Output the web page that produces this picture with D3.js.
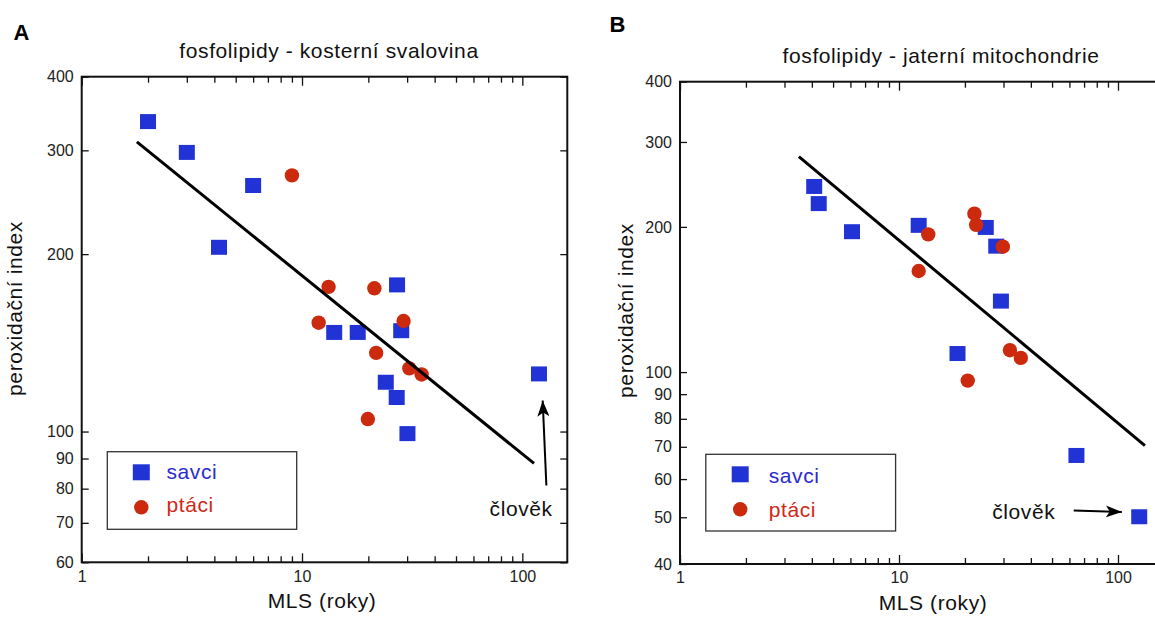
<!DOCTYPE html>
<html>
<head>
<meta charset="utf-8">
<script src="https://cdn.jsdelivr.net/npm/d3@7"></script>
<style>
    body { margin: 0; background: #fff; }
    text { font-family: "Liberation Sans", Arial, Helvetica, sans-serif; }
</style>
</head>
<body>
<div class="container__chart"></div>
<script>
//data
const panelLetters = ["A", "B"];
const panelTitles = ["fosfolipidy - kosterní svalovina", "fosfolipidy - jaterní mitochondrie"];
const legendLabels = ["savci", "ptáci"];
const xTitle = "MLS (roky)";
const yTitle = "peroxidační index";
const humanLabel = "člověk";

const xTickLabels = [1, 10, 100];
const xMinorTicks = [2, 3, 4, 5, 6, 7, 8, 9, 20, 30, 40, 50, 60, 70, 80, 90];
const yTicksA = [60, 70, 80, 90, 100, 200, 300, 400];
const yTicksB = [40, 50, 60, 70, 80, 90, 100, 200, 300, 400];

// A - skeletal muscle (last mammal = human)
const savciMlsA = [2.0, 3.0, 4.2, 6.0, 14, 17.9, 24, 26.9, 27, 28.2, 30.1, 119];
const savciPiA = [335, 297, 205, 261, 147, 147, 121, 114, 177, 148, 99, 125];
const ptaciMlsA = [9.0, 11.9, 13.2, 19.9, 21.3, 21.7, 28.9, 30.7, 34.9];
const ptaciPiA = [272, 153, 176, 105, 175, 136, 154, 128, 125];
const trendMlsA = [1.78, 113];
const trendPiA = [310, 88.3];

// B - liver mitochondria (last mammal = human)
const savciMlsB = [4.1, 4.3, 6.1, 12.3, 18.5, 24.9, 27.8, 29.2, 64.6, 125];
const savciPiB = [242, 223, 195, 201, 109, 199, 182, 140, 67, 50];
const ptaciMlsB = [12.3, 13.6, 20.6, 22.1, 22.5, 29.8, 32.1, 36];
const ptaciPiB = [162, 193, 96, 213, 202, 182, 111, 107];
const trendMlsB = [3.49, 132.7];
const trendPiB = [279.6, 70.4];

//layout
const WIDTH = 1155;
const HEIGHT = 617;
const BLUE = "#2233d6";
const RED = "#cc2a0e";

const panels = [
    {
        letter: panelLetters[0], title: panelTitles[0], yTicks: yTicksA, yDomain: [60, 400],
        savciX: savciMlsA, savciY: savciPiA, ptaciX: ptaciMlsA, ptaciY: ptaciPiA,
        trendX: trendMlsA, trendY: trendPiA,
        left: 81.7, top: 76.7, width: 485.6, height: 485.6,
        letterPos: [13.5, 40], titlePos: [329, 58.3], yTitlePos: [22, 308.5], xTitlePos: [322, 608],
        legend: { x: 25.6, y: 375, w: 189.4, h: 77.6, sx: 34, sy: [20.6, 55.6], tx: 59.2, ty: [27.3, 60.3] },
        arrow: { tail: [7.4, 111], tip: [3.7, 26], text: [-49.4, 142] }
    },
    {
        letter: panelLetters[1], title: panelTitles[1], yTicks: yTicksB, yDomain: [40, 400],
        savciX: savciMlsB, savciY: savciPiB, ptaciX: ptaciMlsB, ptaciY: ptaciPiB,
        trendX: trendMlsB, trendY: trendPiB,
        left: 680, top: 81.7, width: 482.7, height: 482.3,
        letterPos: [609.5, 31.7], titlePos: [941, 62.7], yTitlePos: [633, 310.5], xTitlePos: [933, 610],
        legend: { x: 25.8, y: 372.6, w: 189.8, h: 76.7, sx: 34.4, sy: [20, 55], tx: 62.9, ty: [29, 62.4] },
        arrow: { tail: [-65.5, -6.7], tip: [-17.4, -5.3], text: [-147, 1.3] }
    }
];

const svg = d3.select(".container__chart")
    .append("svg")
    .attr("width", WIDTH)
    .attr("height", HEIGHT)
    .style("display", "block")
    .style("background-color", "#fff");

svg.append("defs").append("marker")
    .attr("id", "arrowhead")
    .attr("markerUnits", "userSpaceOnUse")
    .attr("markerWidth", 18)
    .attr("markerHeight", 12)
    .attr("refX", 16)
    .attr("refY", 6)
    .attr("orient", "auto")
    .append("path")
    .attr("d", "M0,0 L16,6 L0,12 L4,6 Z")
    .attr("fill", "#000");

const drawPanel = p => {
    const xScale = d3.scaleLog().domain([1, 160]).range([p.left, p.left + p.width]);
    const yScale = d3.scaleLog().domain(p.yDomain).range([p.top + p.height, p.top]);
    const g = svg.append("g");

    //ticks, all pointing inside the box
    const bottom = y => g.append("g").attr("transform", `translate(0,${y})`);
    bottom(p.top + p.height)
        .call(d3.axisBottom(xScale).tickValues(xMinorTicks).tickSize(-6).tickFormat(""));
    bottom(p.top + p.height)
        .call(d3.axisBottom(xScale).tickValues(xTickLabels).tickSize(-9).tickPadding(8).tickFormat(d3.format("d")));
    g.append("g").attr("transform", `translate(0,${p.top})`)
        .call(d3.axisTop(xScale).tickValues(xMinorTicks).tickSize(-6).tickFormat(""));
    g.append("g").attr("transform", `translate(0,${p.top})`)
        .call(d3.axisTop(xScale).tickValues(xTickLabels).tickSize(-9).tickFormat(""));
    g.append("g").attr("transform", `translate(${p.left},0)`)
        .call(d3.axisLeft(yScale).tickValues(p.yTicks).tickSize(-7).tickPadding(8).tickFormat(d3.format("d")));
    g.append("g").attr("transform", `translate(${p.left + p.width},0)`)
        .call(d3.axisRight(yScale).tickValues(p.yTicks).tickSize(-7).tickFormat(""));

    g.selectAll(".domain").remove();
    g.selectAll(".tick line").attr("stroke", "#111").attr("stroke-width", 1.3);
    g.selectAll(".tick text")
        .attr("fill", "#222")
        .style("font-size", "16px")
        .style("font-family", "'Liberation Sans', Arial, sans-serif");

    //frame
    g.append("rect")
        .attr("x", p.left)
        .attr("y", p.top)
        .attr("width", p.width)
        .attr("height", p.height)
        .attr("fill", "none")
        .attr("stroke", "#111")
        .attr("stroke-width", 2);

    //squares
    const s = 16;
    g.selectAll(".savci")
        .data(d3.zip(p.savciX, p.savciY))
        .enter()
        .append("rect")
        .classed("savci", true)
        .attr("x", d => xScale(d[0]) - s / 2)
        .attr("y", d => yScale(d[1]) - s / 2)
        .attr("width", s)
        .attr("height", s - 1)
        .attr("fill", BLUE);

    //circles
    g.selectAll(".ptaci")
        .data(d3.zip(p.ptaciX, p.ptaciY))
        .enter()
        .append("circle")
        .classed("ptaci", true)
        .attr("cx", d => xScale(d[0]))
        .attr("cy", d => yScale(d[1]))
        .attr("r", 7.2)
        .attr("fill", RED);

    //regression
    g.append("path")
        .datum(d3.zip(p.trendX, p.trendY))
        .attr("d", d3.line().x(d => xScale(d[0])).y(d => yScale(d[1])))
        .attr("stroke", "#000")
        .attr("stroke-width", 3)
        .attr("fill", "none");

    //human arrow
    const hx = xScale(p.savciX[p.savciX.length - 1]);
    const hy = yScale(p.savciY[p.savciY.length - 1]);
    g.append("line")
        .attr("x1", hx + p.arrow.tail[0])
        .attr("y1", hy + p.arrow.tail[1])
        .attr("x2", hx + p.arrow.tip[0])
        .attr("y2", hy + p.arrow.tip[1])
        .attr("stroke", "#000")
        .attr("stroke-width", 2)
        .attr("marker-end", "url(#arrowhead)");
    g.append("text")
        .attr("x", hx + p.arrow.text[0])
        .attr("y", hy + p.arrow.text[1])
        .style("font-size", "21px")
        .style("letter-spacing", "0.6px")
        .attr("fill", "#111")
        .text(humanLabel);

    //legend
    const lg = g.append("g").attr("transform", `translate(${p.left + p.legend.x},${p.top + p.legend.y})`);
    lg.append("rect")
        .attr("width", p.legend.w)
        .attr("height", p.legend.h)
        .attr("fill", "none")
        .attr("stroke", "#333")
        .attr("stroke-width", 1.3);
    lg.append("rect")
        .attr("x", p.legend.sx - 8.5)
        .attr("y", p.legend.sy[0] - 8)
        .attr("width", 17)
        .attr("height", 16)
        .attr("fill", BLUE);
    lg.append("circle")
        .attr("cx", p.legend.sx)
        .attr("cy", p.legend.sy[1])
        .attr("r", 7.2)
        .attr("fill", RED);
    lg.selectAll(".legendText")
        .data(legendLabels)
        .enter()
        .append("text")
        .attr("x", p.legend.tx)
        .attr("y", (d, i) => p.legend.ty[i])
        .attr("fill", (d, i) => i === 0 ? "#2a2ad0" : "#d02818")
        .style("font-size", "21px")
        .style("letter-spacing", "0.6px")
        .text(d => d);

    //titles
    svg.append("text")
        .attr("x", p.letterPos[0])
        .attr("y", p.letterPos[1])
        .style("font-size", "22px")
        .style("font-weight", "bold")
        .text(p.letter);

    svg.append("text")
        .attr("x", p.titlePos[0])
        .attr("y", p.titlePos[1])
        .attr("text-anchor", "middle")
        .style("font-size", "21px")
        .style("letter-spacing", "0.6px")
        .attr("fill", "#111")
        .text(p.title);

    svg.append("text")
        .attr("transform", `translate(${p.yTitlePos[0]},${p.yTitlePos[1]}) rotate(-90)`)
        .attr("text-anchor", "middle")
        .style("font-size", "21px")
        .style("letter-spacing", "0.6px")
        .attr("fill", "#111")
        .text(yTitle);

    svg.append("text")
        .attr("x", p.xTitlePos[0])
        .attr("y", p.xTitlePos[1])
        .attr("text-anchor", "middle")
        .style("font-size", "21px")
        .style("letter-spacing", "0.6px")
        .attr("fill", "#111")
        .text(xTitle);
};

panels.forEach(drawPanel);
</script>
</body>
</html>
